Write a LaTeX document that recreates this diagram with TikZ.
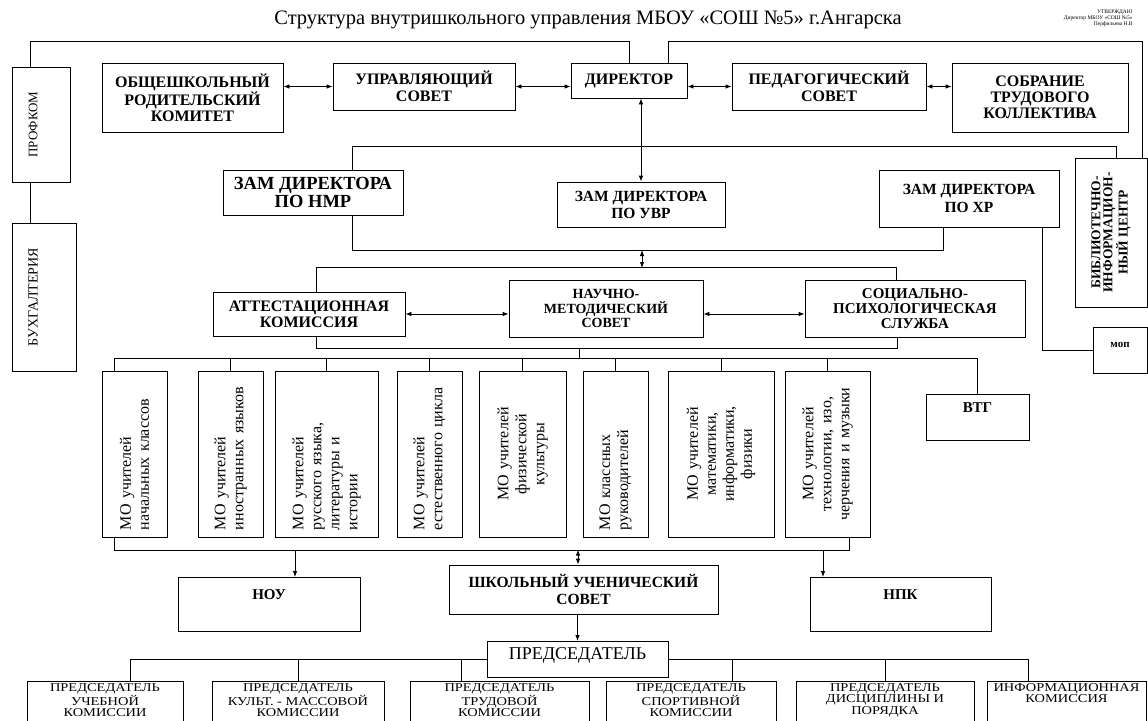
\documentclass[tikz,border=0pt]{standalone}
\usepackage{fontspec}
\setmainfont{Liberation Serif}
\newfontfamily\wideserif[FakeStretch=1.2]{Liberation Serif}
\usetikzlibrary{arrows.meta}
\newcommand{\setsz}[2]{\fontsize{#1}{#2}\selectfont}
\newcommand{\chairtext}[2][152pt]{\parbox[t][50pt][t]{#1}{\centering #2}}

\begin{document}
\begin{tikzpicture}[x=1pt,y=-1pt,>={Latex[length=6pt,width=4.5pt]},line width=0.8pt,
  box/.style={draw,fill=white,inner sep=2pt,align=center},
  topbox/.style={box,anchor=north,inner sep=3pt},
  mo/.style={draw,fill=white,rotate=90,minimum width=166pt,text width=152pt,inner sep=3pt,align=left,font=\setsz{16}{18}},
  chair/.style={draw,fill=white,anchor=north,inner sep=2pt,font=\wideserif\setsz{12}{11.5}}]
\useasboundingbox (0,0) rectangle (1148,720);
\clip (0,0) rectangle (1148,720);

\node[font=\setsz{20.5}{24}] (title) at (588,20) {Структура внутришкольного управления МБОУ «СОШ №5» г.Ангарска};
\node[anchor=north east,align=right,inner sep=0pt,font=\setsz{5.5}{6}] (appr) at (1133,9) {УТВЕРЖДАЮ\\Директор МБОУ «СОШ №5»\\Перфильева Н.В};

\node[box,rotate=90,minimum width=115pt,minimum height=58pt,text depth=16pt,font=\setsz{13}{13}] (prof) at (41,124.5) {ПРОФКОМ};
\node[box,rotate=90,minimum width=148pt,minimum height=64pt,text depth=22pt,font=\setsz{14}{14}] (bux) at (44,297) {БУХГАЛТЕРИЯ};

\node[box,minimum width=181pt,minimum height=69pt,font=\bfseries\setsz{16}{16}] (ork) at (192.5,97.5) {ОБЩЕШКОЛЬНЫЙ\\РОДИТЕЛЬСКИЙ\\КОМИТЕТ};
\node[box,minimum width=182pt,minimum height=47pt,font=\bfseries\setsz{16}{17}] (us) at (424,86.5) {УПРАВЛЯЮЩИЙ\\СОВЕТ};
\node[box,minimum width=116pt,minimum height=35pt,font=\bfseries\setsz{16}{16}] (dir) at (629,80.5) {ДИРЕКТОР};
\node[box,minimum width=194pt,minimum height=47pt,font=\bfseries\setsz{16}{17}] (ps) at (829,86.5) {ПЕДАГОГИЧЕСКИЙ\\СОВЕТ};
\node[box,minimum width=176pt,minimum height=69pt,font=\bfseries\setsz{16}{16}] (stk) at (1040,97.5) {СОБРАНИЕ\\ТРУДОВОГО\\КОЛЛЕКТИВА};

\node[box,minimum width=180pt,minimum height=45pt,font=\bfseries\setsz{18.5}{18}] (znmr) at (313,192.5) {ЗАМ ДИРЕКТОРА\\ПО НМР};
\node[box,minimum width=168pt,minimum height=45pt,font=\bfseries\setsz{15.5}{17}] (zuvr) at (641,204.5) {ЗАМ ДИРЕКТОРА\\ПО УВР};
\node[box,minimum width=180pt,minimum height=57pt,font=\bfseries\setsz{15.5}{18}] (zxr) at (969,198.5) {ЗАМ ДИРЕКТОРА\\ПО ХР};
\node[box,rotate=90,minimum width=149pt,minimum height=72pt,font=\bfseries\setsz{13.5}{12}] (bic) at (1111,232.5) {БИБЛИОТЕЧНО-\\ИНФОРМАЦИОН-\\НЫЙ ЦЕНТР};

\node[box,minimum width=192pt,minimum height=44pt,font=\bfseries\setsz{16}{16}] (att) at (309,314) {АТТЕСТАЦИОННАЯ\\КОМИССИЯ};
\node[box,minimum width=194pt,minimum height=57pt,font=\bfseries\setsz{14}{14.5}] (nms) at (606,308.5) {НАУЧНО-\\МЕТОДИЧЕСКИЙ\\СОВЕТ};
\node[box,minimum width=220pt,minimum height=57pt,font=\bfseries\setsz{15}{15}] (spc) at (915,308.5) {СОЦИАЛЬНО-\\ПСИХОЛОГИЧЕСКАЯ\\СЛУЖБА};
\node[topbox,minimum width=54pt,text height=17pt,text depth=23pt,font=\bfseries\setsz{11}{11}] (mop) at (1120,327) {моп};
\node[topbox,minimum width=103pt,text height=15pt,text depth=25pt,font=\bfseries\setsz{15}{15}] (vtg) at (977.5,394) {ВТГ};

\node[mo,minimum height=65pt] (mo1) at (134.5,454) {МО учителей\\начальных классов};
\node[mo,minimum height=65pt] (mo2) at (230.5,454) {МО учителей\\иностранных языков};
\node[mo,minimum height=103pt] (mo3) at (326.5,454) {МО учителей\\русского языка,\\литературы и\\истории};
\node[mo,minimum height=65pt] (mo4) at (429.5,454) {МО учителей\\естественного цикла};
\node[mo,minimum height=87pt,align=center] (mo5) at (522.5,454) {МО учителей\\физической\\культуры};
\node[mo,minimum height=65pt] (mo6) at (615.5,454) {МО классных\\руководителей};
\node[mo,minimum height=106pt,align=center] (mo7) at (721,454) {МО учителей\\математики,\\информатики,\\физики};
\node[mo,minimum height=85pt,align=center] (mo8) at (827.5,454) {МО учителей\\технологии, изо,\\черчения и музыки};

\node[topbox,minimum width=182pt,text height=19pt,text depth=29pt,font=\bfseries\setsz{15}{15}] (nou) at (269,577) {НОУ};
\node[box,minimum width=269pt,minimum height=49pt,font=\bfseries\setsz{15.5}{17}] (shus) at (583.5,589.5) {ШКОЛЬНЫЙ УЧЕНИЧЕСКИЙ\\СОВЕТ};
\node[topbox,minimum width=181pt,text height=19pt,text depth=29pt,font=\bfseries\setsz{15}{15}] (npk) at (900.5,577) {НПК};
\node[topbox,minimum width=181pt,text height=15pt,text depth=15pt,font=\setsz{18}{18}] (pred) at (577.5,641) {ПРЕДСЕДАТЕЛЬ};

\node[chair,minimum width=156pt] (c1) at (105,681) {\chairtext{ПРЕДСЕДАТЕЛЬ\\УЧЕБНОЙ\\КОМИССИИ}};
\node[chair,minimum width=172pt] (c2) at (298,681) {\chairtext[168pt]{ПРЕДСЕДАТЕЛЬ\\КУЛЬТ. - МАССОВОЙ\\КОМИССИИ}};
\node[chair,minimum width=179pt] (c3) at (499.5,681) {\chairtext{ПРЕДСЕДАТЕЛЬ\\ТРУДОВОЙ\\КОМИССИИ}};
\node[chair,minimum width=170pt] (c4) at (691,681) {\chairtext{ПРЕДСЕДАТЕЛЬ\\СПОРТИВНОЙ\\КОМИССИИ}};
\node[chair,minimum width=178pt] (c5) at (885,681) {\chairtext{ПРЕДСЕДАТЕЛЬ\\ДИСЦИПЛИНЫ И\\ПОРЯДКА}};
\node[chair,minimum width=159pt] (c6) at (1066.5,681) {\chairtext[155pt]{ИНФОРМАЦИОННАЯ\\КОМИССИЯ}};

\draw ([xshift=19pt]prof.north east) -- ++(0,-25) -| (dir.north);
\draw ([xshift=19pt]prof.north west) -- ([xshift=19pt]bux.north east);
\draw ([xshift=39pt]dir.north) -- ++(0,-21) -| ([xshift=31pt]bic.east);
\draw[<->] (us.west -| ork.east) -- (us.west);
\draw[<->] (us.east) -- (us.east -| dir.west);
\draw[<->] (ps.west -| dir.east) -- (ps.west);
\draw[<->] (ps.east) -- (ps.east -| stk.west);
\draw[<->] (dir.south -| zuvr.north) -- (zuvr.north);

\draw ([xshift=39pt]znmr.north) -- ++(0,-23) -| ([xshift=5pt]bic.east);
\draw ([xshift=39pt]znmr.south) -- ++(0,35) -| ([xshift=-26pt]zxr.south);
\draw ([xshift=73pt]zxr.south) |- (mop.west);
\coordinate (upbus) at (642,250);
\coordinate (midbus) at (642,268);
\draw[<->] (upbus) -- (midbus);

\draw ([xshift=7pt]att.north) -- ++(0,-24) -| ([xshift=-19pt]spc.north);
\draw[<->] (att.east) -- (att.east -| nms.west);
\draw[<->] (att.east -| nms.east) -- (att.east -| spc.west);
\draw ([xshift=7pt]att.south) -- ++(0,12) -| ([xshift=-18pt]spc.south);
\coordinate (nmsbus) at (579,348);
\coordinate (mobus) at (579,359);
\draw (nmsbus) -- (mobus);

\draw ([xshift=13pt]mo1.north east) -- ++(0,-12) -| (vtg.north);
\foreach \m in {mo2,mo3,mo4,mo5,mo6,mo7,mo8}
  \draw (\m.east) -- ++(0,-12);
\draw ([xshift=13pt]mo1.north west) -- ++(0,13) -| ([xshift=-21pt]mo8.south west);

\draw[<-] ([xshift=26pt]nou.north) -- ++(0,-27);
\draw[<->] ([xshift=-5.5pt]shus.north) -- ++(0,-15);
\draw[<-] ([xshift=-77.5pt]npk.north) -- ++(0,-27);
\draw[->] (shus.south -| pred.north) -- (pred.north);

\draw (pred.west) -| ([xshift=25pt]c1.north);
\draw (pred.east) -| ([xshift=-38.5pt]c6.north);
\draw (c2.north) -- ++(0,-22);
\draw ([xshift=-38.5pt]c3.north) -- ++(0,-22);
\draw ([xshift=41pt]c4.north) -- ++(0,-22);
\draw (c5.north) -- ++(0,-22);
\end{tikzpicture}
\end{document}
